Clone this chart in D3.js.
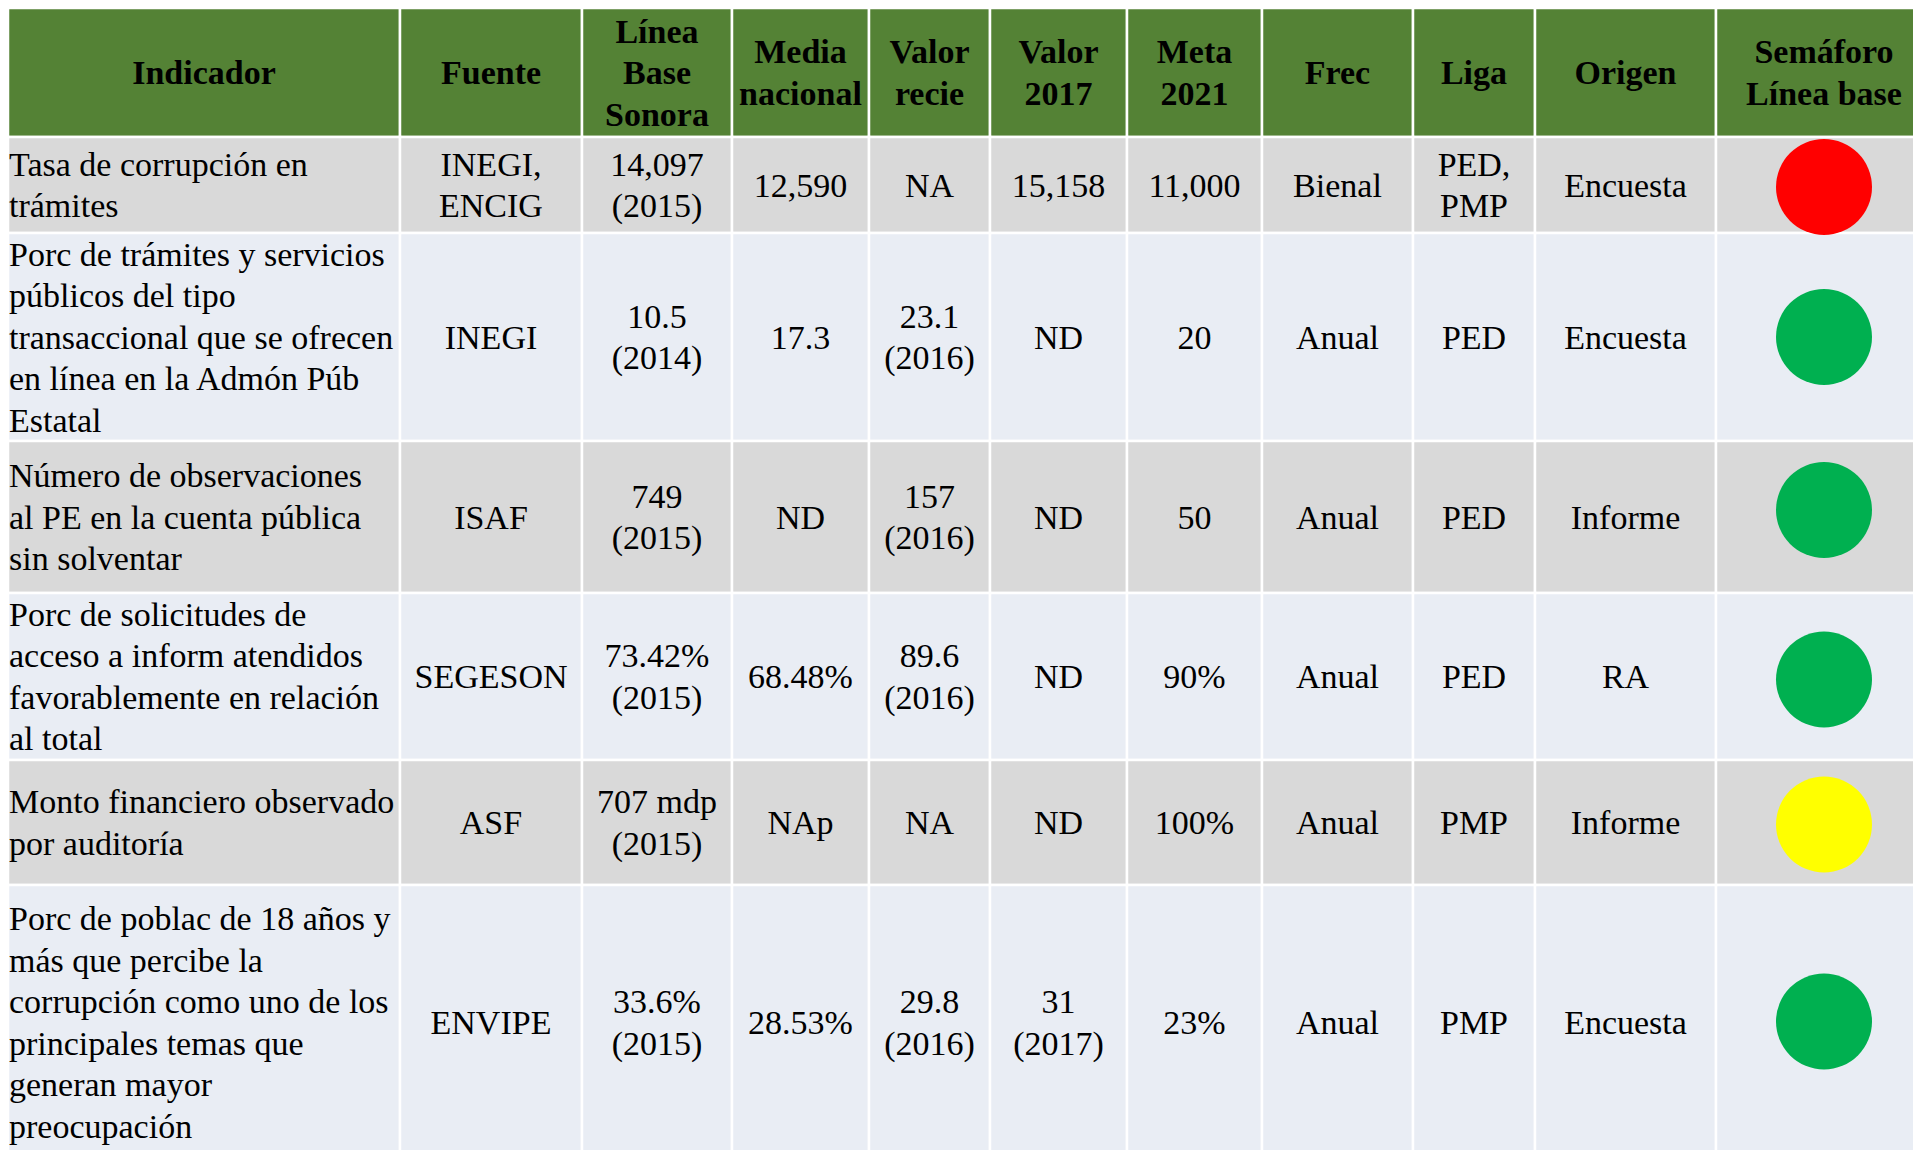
<!DOCTYPE html>
<html lang="es">
<head>
<meta charset="utf-8">
<title>Indicadores</title>
<script src="https://d3js.org/d3.v7.min.js"></script>
<style>
  body { margin: 0; background: #fff; }
  svg { display: block; }
</style>
</head>
<body>
<div id="tabla"></div>
<script>
// column headers (line breaks as in the slide)
var headers = ["Indicador", "Fuente", "Línea\nBase\nSonora", "Media\nnacional", "Valor\nrecie",
  "Valor\n2017", "Meta\n2021", "Frec", "Liga", "Origen", "Semáforo\nLínea base"];

// one array per column
var indicador = [
  "Tasa de corrupción en\ntrámites",
  "Porc de trámites y servicios\npúblicos del tipo\ntransaccional que se ofrecen\nen línea en la Admón Púb\nEstatal",
  "Número de observaciones\nal PE en la cuenta pública\nsin solventar",
  "Porc de solicitudes de\nacceso a inform atendidos\nfavorablemente en relación\nal total",
  "Monto financiero observado\npor auditoría",
  "Porc de poblac de 18 años y\nmás que percibe la\ncorrupción como uno de los\nprincipales temas que\ngeneran mayor\npreocupación"
];
var fuente = ["INEGI,\nENCIG", "INEGI", "ISAF", "SEGESON", "ASF", "ENVIPE"];
var lineaBase = ["14,097\n(2015)", "10.5\n(2014)", "749\n(2015)", "73.42%\n(2015)", "707 mdp\n(2015)", "33.6%\n(2015)"];
var mediaNacional = ["12,590", "17.3", "ND", "68.48%", "NAp", "28.53%"];
var valorRecie = ["NA", "23.1\n(2016)", "157\n(2016)", "89.6\n(2016)", "NA", "29.8\n(2016)"];
var valor2017 = ["15,158", "ND", "ND", "ND", "ND", "31\n(2017)"];
var meta2021 = ["11,000", "20", "50", "90%", "100%", "23%"];
var frec = ["Bienal", "Anual", "Anual", "Anual", "Anual", "Anual"];
var liga = ["PED,\nPMP", "PED", "PED", "PED", "PMP", "PMP"];
var origen = ["Encuesta", "Encuesta", "Informe", "RA", "Informe", "Encuesta"];
var semaforo = ["rojo", "verde", "verde", "verde", "amarillo", "verde"];

var columns = [indicador, fuente, lineaBase, mediaNacional, valorRecie, valor2017, meta2021, frec, liga, origen];

// layout
var W = 1913, H = 1150;
var xEdges = [8, 400, 582, 732, 869, 990, 1127, 1262, 1413, 1535, 1716, 1925];
var yEdges = [8, 137, 233, 441, 593, 760, 885, 1160];
var luzX = 1824, luzR = 48;
var luzShift = [2, 0, -7, 3, 2, -1];   // the lights sit a bit off the row middle
var fontSize = 34, lineH = 41.5;
var font = "'Liberation Serif', 'Times New Roman', Times, serif";

var colColor = d3.scaleOrdinal()
  .domain(["rojo", "verde", "amarillo"])
  .range(["#ff0000", "#00b050", "#ffff00"]);
var rowFill = function(i) { return i % 2 === 0 ? "#d9d9d9" : "#e9edf4"; };

var svg = d3.select("#tabla").append("svg")
  .attr("width", W)
  .attr("height", H);

// build cells
var cells = [];
headers.forEach(function(h, c) {
  cells.push({ r: 0, c: c, text: h, head: true });
});
indicador.forEach(function(_, i) {
  columns.forEach(function(col, c) {
    cells.push({ r: i + 1, c: c, text: col[i], head: false });
  });
  cells.push({ r: i + 1, c: 10, text: "", head: false, luz: semaforo[i] });
});

svg.selectAll("rect.cell")
  .data(cells)
  .enter().append("rect")
  .attr("class", "cell")
  .attr("x", function(d) { return xEdges[d.c]; })
  .attr("y", function(d) { return yEdges[d.r]; })
  .attr("width", function(d) { return xEdges[d.c + 1] - xEdges[d.c]; })
  .attr("height", function(d) { return yEdges[d.r + 1] - yEdges[d.r]; })
  .attr("fill", function(d) { return d.head ? "#548235" : rowFill(d.r - 1); })
  .attr("stroke", "#fff")
  .attr("stroke-width", 2.5);

// text
var txt = svg.selectAll("text.cell")
  .data(cells.filter(function(d) { return d.text; }))
  .enter().append("text")
  .attr("class", "cell")
  .attr("font-family", font)
  .attr("font-size", fontSize)
  .attr("font-weight", function(d) { return d.head ? "bold" : "normal"; })
  .attr("fill", "#000")
  .attr("text-anchor", function(d) { return (d.c === 0 && !d.head) ? "start" : "middle"; });

txt.each(function(d) {
  var lines = d.text.split("\n");
  var cy = (yEdges[d.r] + yEdges[d.r + 1]) / 2;
  var x = (d.c === 0 && !d.head) ? xEdges[0] + 1 : (xEdges[d.c] + xEdges[d.c + 1]) / 2;
  if (d.c === 10) x = luzX;
  d3.select(this).selectAll("tspan")
    .data(lines)
    .enter().append("tspan")
    .attr("x", x)
    .attr("y", function(l, i) { return cy + (i - (lines.length - 1) / 2) * lineH + fontSize * 0.34; })
    .text(function(l) { return l; });
});

// traffic lights
svg.selectAll("circle.luz")
  .data(cells.filter(function(d) { return d.luz; }))
  .enter().append("circle")
  .attr("class", "luz")
  .attr("cx", luzX)
  .attr("cy", function(d) { return (yEdges[d.r] + yEdges[d.r + 1]) / 2 + luzShift[d.r - 1]; })
  .attr("r", luzR)
  .attr("fill", function(d) { return colColor(d.luz); });
</script>
</body>
</html>
